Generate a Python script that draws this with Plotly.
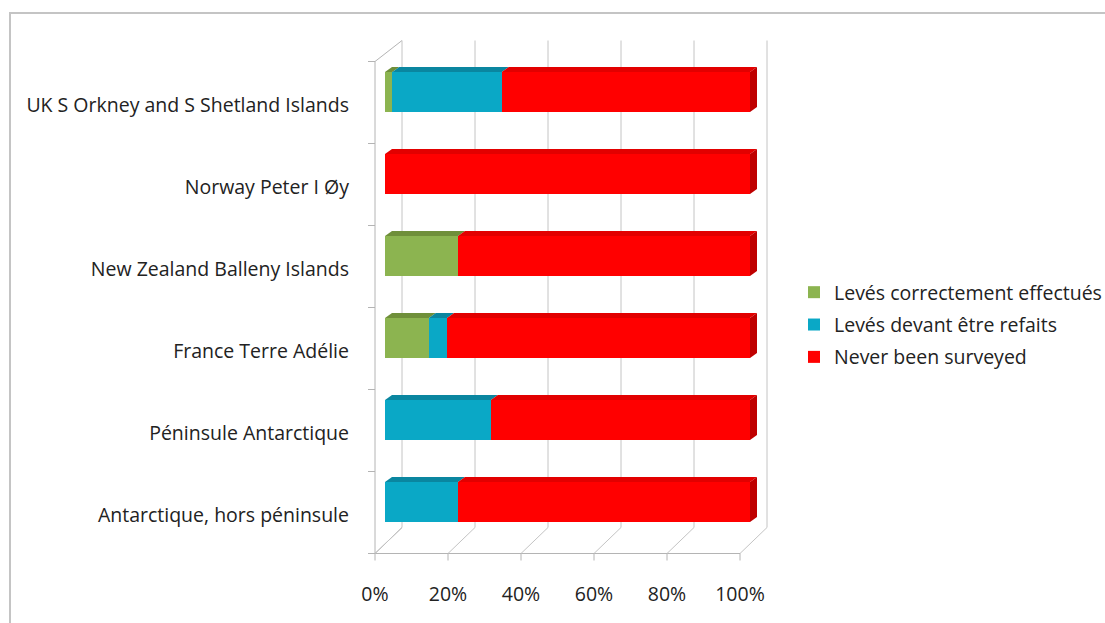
import plotly.graph_objects as go

# Survey coverage by area (percent of each row, top row first)
categories = [
    "UK S Orkney and S Shetland Islands",
    "Norway Peter I Øy",
    "New Zealand Balleny Islands",
    "France Terre Adélie",
    "Péninsule Antarctique",
    "Antarctique, hors péninsule",
]
series_names = [
    "Levés correctement effectués",
    "Levés devant être refaits",
    "Never been surveyed",
]
done_ok = [2, 0, 20, 12, 0, 0]
to_redo = [30, 0, 0, 5, 29, 20]
never = [68, 100, 80, 83, 71, 80]

x_tick_values = [0, 20, 40, 60, 80, 100]
x_tick_labels = ["0%", "20%", "40%", "60%", "80%", "100%"]

front_colors = ["#8cb450", "#0aa8c6", "#ff0000"]
top_colors = ["#6f8f3a", "#0a86a0", "#e20000"]
side_color = "#bf0000"
frame_color = "#b4b4b4"
text_color = "#222222"
FONT = "Open Sans"
FONT_SIZE = 19.5

# Figure geometry (pixels)
W, H = 1105, 623
ML, MR, MT, MB = 375, 336, 38, 70
PW, PH = W - ML - MR, H - MT - MB
X_PX = 3.65          # pixels per percent
Y_PX = 82.0          # pixels per category row
BAR0 = 385           # pixel of 0% on the bar front faces
ROW0 = 92            # pixel of first bar centre
BAR_W = 0.49
DEPTH_X, DEPTH_Y = 27, 21     # frame depth in pixels
FACE_DX, FACE_DY = 7, 5       # visible bar top/side depth in pixels
ROW_SHIFT = 10                # front of the frame sits lower than the bars

x_range = [-(BAR0 - ML) / X_PX, (ML + PW - BAR0) / X_PX]
y_range = [(len(categories) - 1) + (MT + PH - (ROW0 + (len(categories) - 1) * Y_PX)) / Y_PX,
           -(ROW0 - MT) / Y_PX]


def px(xp, yp):
    """Pixel position -> paper coordinates."""
    return (xp - ML) / PW, (MT + PH - yp) / PH


def line(x0p, y0p, x1p, y1p, color=frame_color, width=1):
    a, b = px(x0p, y0p)
    c, d = px(x1p, y1p)
    return dict(type="line", xref="paper", yref="paper", x0=a, y0=b, x1=c, y1=d,
                line=dict(color=color, width=width), layer="below")


fig = go.Figure()
series = [done_ok, to_redo, never]
for i, (name, vals) in enumerate(zip(series_names, series)):
    fig.add_trace(go.Bar(
        y=categories, x=vals, name=name, orientation="h",
        width=BAR_W, marker=dict(color=front_colors[i], line=dict(width=0)),
        legendgroup=name, hoverinfo="x+y+name",
    ))

shapes = []

# Frame: front/left walls, floor, back wall grid lines
front_left = ML
frame_top = ROW0 + ROW_SHIFT + 0.5 - Y_PX / 2
frame_bottom = frame_top + Y_PX * len(categories)
back_bottom = frame_bottom - DEPTH_Y - 5
shapes.append(line(front_left, frame_top, front_left, frame_bottom))
shapes.append(line(front_left, frame_top, front_left + DEPTH_X, frame_top - DEPTH_Y))
shapes.append(line(front_left, frame_bottom, front_left + DEPTH_X, back_bottom))
x_front_end = front_left + 100 * X_PX
shapes.append(line(front_left, frame_bottom, x_front_end, frame_bottom))
for v in x_tick_values:
    xf = front_left + v * X_PX
    xb = xf + DEPTH_X
    shapes.append(line(xb, frame_top - DEPTH_Y, xb, back_bottom, color="#c4c4c4"))
    shapes.append(line(xf, frame_bottom, xb, back_bottom, color="#c4c4c4"))
    shapes.append(line(xf, frame_bottom, xf, frame_bottom + 7))
for k in range(len(categories) + 1):
    yk = frame_top + k * Y_PX
    shapes.append(line(front_left - 7, yk, front_left, yk))

# 3D faces of the stacked bars, from the same values
dx = FACE_DX / X_PX
dy = FACE_DY / Y_PX
for r in range(len(categories)):
    start = 0
    top = r - BAR_W / 2
    bottom = r + BAR_W / 2
    for i, vals in enumerate(series):
        v = vals[r]
        if v <= 0:
            continue
        end = start + v
        path = (f"M {start},{top} L {end},{top} L {end + dx},{top - dy} "
                f"L {start + dx},{top - dy} Z")
        shapes.append(dict(type="path", xref="x", yref="y", path=path,
                           fillcolor=top_colors[i], line=dict(width=0), layer="above"))
        start = end
    side = (f"M {start},{bottom} L {start},{top} L {start + dx},{top - dy} "
            f"L {start + dx},{bottom - dy} Z")
    shapes.append(dict(type="path", xref="x", yref="y", path=side,
                       fillcolor=side_color, line=dict(width=0), layer="above"))

# Outer chart border
bx0, by0 = px(10, 13)
bx1, by1 = px(W + 10, H + 10)
shapes.append(dict(type="rect", xref="paper", yref="paper", x0=bx0, y0=by1, x1=bx1, y1=by0,
                   line=dict(color="#c4c4c4", width=2), fillcolor="rgba(0,0,0,0)", layer="below"))

leg_x, leg_y = px(794, 273)

fig.update_layout(
    width=W, height=H,
    margin=dict(l=ML, r=MR, t=MT, b=MB, pad=0, autoexpand=False),
    barmode="stack",
    paper_bgcolor="white", plot_bgcolor="white",
    font=dict(family=FONT, size=FONT_SIZE, color=text_color),
    shapes=shapes,
    showlegend=True,
    legend=dict(x=leg_x, y=leg_y, xanchor="left", yanchor="top",
                traceorder="grouped", tracegroupgap=4,
                font=dict(family=FONT, size=FONT_SIZE, color=text_color),
                bgcolor="rgba(0,0,0,0)"),
    xaxis=dict(range=x_range, tickvals=x_tick_values, ticktext=x_tick_labels,
               showgrid=False, zeroline=False, showline=False, ticks="",
               automargin=False,
               ticklabelshift=-(BAR0 - ML), ticklabelstandoff=27,
               tickfont=dict(family=FONT, size=FONT_SIZE, color=text_color)),
    yaxis=dict(range=y_range, type="category", showgrid=False, zeroline=False,
               showline=False, ticks="", automargin=False,
               ticklabelshift=-(ROW_SHIFT + 3), ticklabelstandoff=25,
               tickfont=dict(family=FONT, size=FONT_SIZE, color=text_color)),
)

fig.write_html("out.html")
